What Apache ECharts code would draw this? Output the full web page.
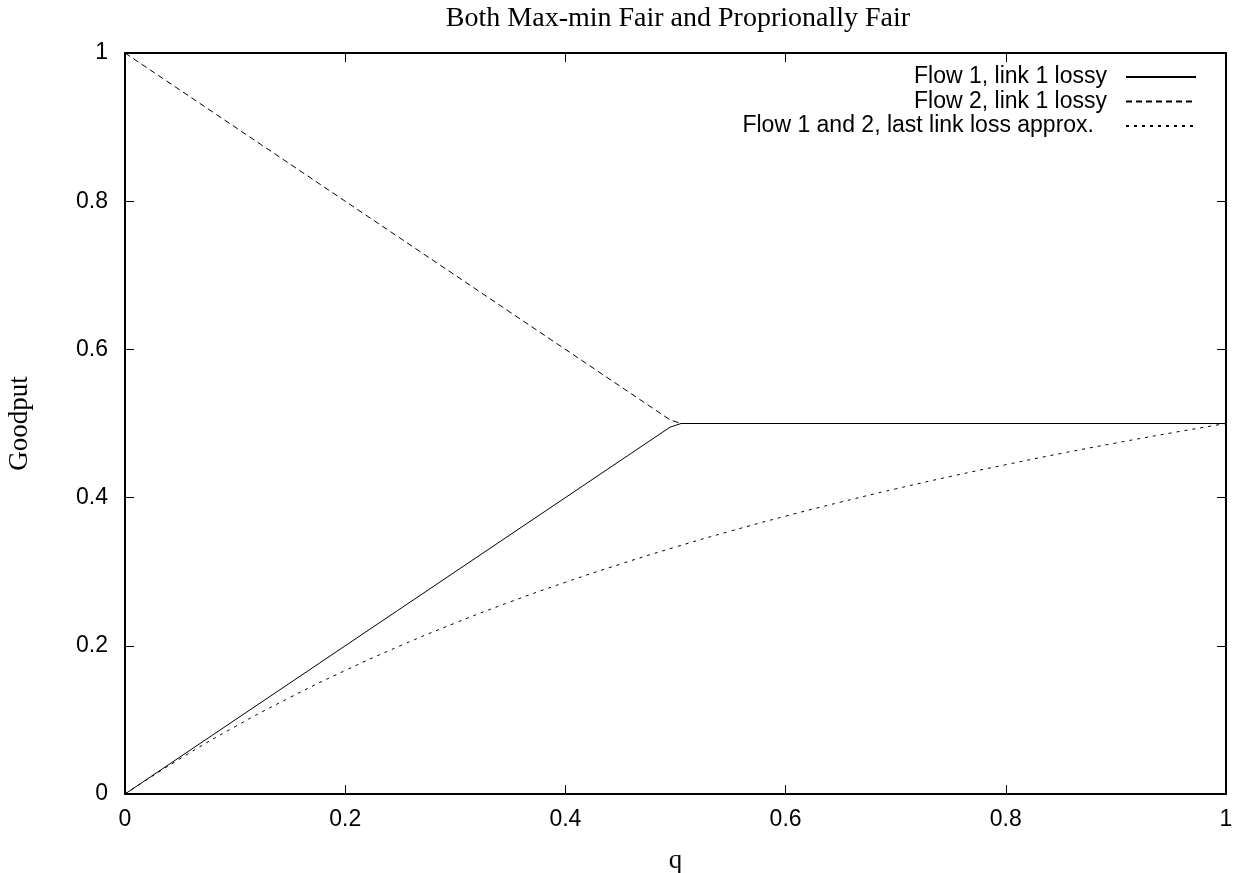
<!DOCTYPE html>
<html>
<head>
<meta charset="utf-8">
<script src="https://cdn.jsdelivr.net/npm/echarts@6/dist/echarts.min.js"></script>
<style>html,body{margin:0;padding:0;background:#fff}#c{width:1239px;height:873px}</style>
</head>
<body>
<div id="c"></div>
<script>
var titleText = 'Both Max-min Fair and Proprionally Fair';
var xName = 'q';
var yName = 'Goodput';
var tickValues = [0, 0.2, 0.4, 0.6, 0.8, 1];

var flowQ = [0, 0.495, 0.505, 1];
var flow1 = [0, 0.495, 0.5, 0.5];
var flow2 = [1, 0.505, 0.5, 0.5];

var approxQ = [0, 0.05, 0.1, 0.15, 0.2, 0.25, 0.3, 0.35, 0.4, 0.45, 0.5, 0.55, 0.6, 0.65, 0.7, 0.75, 0.8, 0.85, 0.9, 0.95, 1];
var approx = [0, 0.0476, 0.0909, 0.1304, 0.1667, 0.2, 0.2308, 0.2593, 0.2857, 0.3103, 0.3333, 0.3548, 0.375, 0.3939, 0.4118, 0.4286, 0.4444, 0.4595, 0.4737, 0.4872, 0.5];

var names = ['Flow 1, link 1 lossy', 'Flow 2, link 1 lossy', 'Flow 1 and 2, last link loss approx.'];

function pairs(xs, ys) { return xs.map(function (x, i) { return [x, ys[i]]; }); }

var sans = 'Liberation Sans';
var serif = 'Liberation Serif';

function axisBase(extra) {
  var a = {
    type: 'value', min: 0, max: 1, interval: 0.2,
    axisLine: { show: true, onZero: false, lineStyle: { color: '#000', width: 2 } },
    axisTick: { show: true, inside: true, length: 9, lineStyle: { color: '#000', width: 1 } },
    splitLine: { show: false },
    axisLabel: { show: false }
  };
  for (var k in extra) a[k] = extra[k];
  return a;
}

var chart = echarts.init(document.getElementById('c'));
chart.setOption({
  animation: false,
  backgroundColor: '#fff',
  title: {
    text: titleText, left: 673, top: 0, textAlign: 'center',
    textStyle: { fontFamily: serif, fontSize: 28, fontWeight: 'normal', color: '#000' }
  },
  grid: { left: 125, right: 13, top: 53, bottom: 79, containLabel: false, outerBoundsMode: 'none' },
  legend: {
    orient: 'vertical', right: 42, top: 65, align: 'right', padding: 0,
    itemWidth: 70, itemHeight: 14, itemGap: 0.5,
    itemStyle: { opacity: 0 },
    data: [
      { name: names[0] },
      { name: names[1] },
      { name: names[2], textStyle: { padding: [0, 27, 0, 0] } }
    ],
    textStyle: { fontFamily: sans, fontSize: 23, lineHeight: 24, color: '#000', width: 500, align: 'right', padding: [0, 14, 0, 0] }
  },
  xAxis: [
    axisBase({
      position: 'bottom',
      name: xName, nameLocation: 'middle', nameGap: 53,
      nameTextStyle: { fontFamily: serif, fontSize: 27, color: '#000' },
      axisLabel: { show: true, margin: 14, fontFamily: sans, fontSize: 23, color: '#000',
        formatter: function (v) { return tickValues.indexOf(+v.toFixed(1)) >= 0 ? String(+v.toFixed(1)) : ''; } }
    }),
    axisBase({ position: 'top' })
  ],
  yAxis: [
    axisBase({
      position: 'left',
      name: yName, nameLocation: 'middle', nameGap: 92,
      nameTextStyle: { fontFamily: serif, fontSize: 27, color: '#000' },
      axisLabel: { show: true, margin: 17, fontFamily: sans, fontSize: 23, color: '#000',
        formatter: function (v) { return String(+v.toFixed(1)); } }
    }),
    axisBase({ position: 'right' })
  ],
  series: [
    { name: names[0], type: 'line', data: pairs(flowQ, flow1), showSymbol: false, symbol: 'none',
      lineStyle: { color: '#000', width: 1, type: 'solid' }, itemStyle: { color: '#000' } },
    { name: names[1], type: 'line', data: pairs(flowQ, flow2), showSymbol: false, symbol: 'none',
      lineStyle: { color: '#000', width: 1, type: [6, 4] }, itemStyle: { color: '#000' } },
    { name: names[2], type: 'line', data: pairs(approxQ, approx), showSymbol: false, symbol: 'none', smooth: true,
      lineStyle: { color: '#000', width: 1, type: [3, 5] }, itemStyle: { color: '#000' } }
  ]
});
</script>
</body>
</html>
